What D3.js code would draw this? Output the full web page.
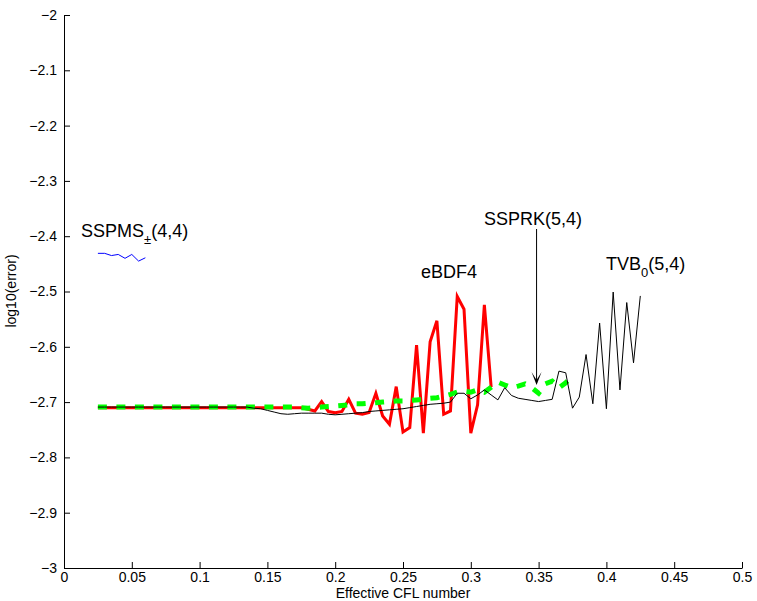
<!DOCTYPE html>
<html>
<head>
<meta charset="utf-8">
<script src="https://cdn.jsdelivr.net/npm/d3@7"></script>
<style>
  body { margin: 0; background: #fff; }
  svg { display: block; font-family: "Liberation Sans", Arial, Helvetica, sans-serif; }
</style>
</head>
<body>
<svg id="chart" width="757" height="601"></svg>
<script>
// effective CFL grid shared by all runs
var cfl = [0.025, 0.030, 0.035, 0.040, 0.045, 0.050, 0.055, 0.060, 0.065, 0.070,
  0.075, 0.080, 0.085, 0.090, 0.095, 0.100, 0.105, 0.110, 0.115, 0.120,
  0.125, 0.130, 0.135, 0.140, 0.145, 0.150, 0.155, 0.160, 0.165, 0.170,
  0.175, 0.180, 0.185, 0.190, 0.195, 0.200, 0.205, 0.210, 0.215, 0.220,
  0.225, 0.230, 0.235, 0.240, 0.245, 0.250, 0.255, 0.260, 0.265, 0.270,
  0.275, 0.280, 0.285, 0.290, 0.295, 0.300, 0.305, 0.310, 0.315, 0.320,
  0.325, 0.330, 0.335, 0.340, 0.345, 0.350, 0.355, 0.360, 0.365, 0.370,
  0.375, 0.380, 0.385, 0.390, 0.395, 0.400, 0.405, 0.410, 0.415, 0.420, 0.425];

// log10(error) per method
var sspms = [-2.431, -2.431, -2.435, -2.433, -2.440, -2.433, -2.445, -2.439];

var ebdf4 = [-2.710, -2.710, -2.710, -2.710, -2.710, -2.710, -2.710, -2.710, -2.710, -2.710,
  -2.710, -2.710, -2.710, -2.710, -2.710, -2.710, -2.710, -2.710, -2.710, -2.710,
  -2.710, -2.710, -2.710, -2.710, -2.710, -2.710, -2.710, -2.710, -2.710, -2.710,
  -2.710, -2.713, -2.716, -2.699, -2.717, -2.719, -2.717, -2.695, -2.720, -2.722,
  -2.719, -2.684, -2.725, -2.740, -2.672, -2.754, -2.746, -2.597, -2.756, -2.591,
  -2.553, -2.722, -2.716, -2.509, -2.532, -2.756, -2.705, -2.524, -2.673];

var ssprk = [-2.709, -2.709, -2.709, -2.709, -2.709, -2.709, -2.709, -2.709, -2.709, -2.709,
  -2.709, -2.709, -2.709, -2.709, -2.709, -2.709, -2.709, -2.709, -2.709, -2.709,
  -2.709, -2.709, -2.709, -2.709, -2.709, -2.709, -2.709, -2.709, -2.709, -2.709,
  -2.710, -2.711, -2.710, -2.709, -2.708, -2.707, -2.706, -2.705, -2.703, -2.703,
  -2.702, -2.701, -2.700, -2.699, -2.698, -2.698, -2.697, -2.696, -2.695, -2.693,
  -2.692, -2.689, -2.686, -2.682, -2.680, -2.682, -2.678, -2.682, -2.673, -2.664,
  -2.669, -2.674, -2.671, -2.667, -2.674, -2.684, -2.667, -2.662, -2.674, -2.665, -2.653];

var tvb = [-2.709, -2.709, -2.709, -2.709, -2.709, -2.709, -2.709, -2.709, -2.709, -2.709,
  -2.709, -2.709, -2.709, -2.709, -2.709, -2.709, -2.709, -2.709, -2.709, -2.709,
  -2.709, -2.709, -2.709, -2.711, -2.712, -2.715, -2.718, -2.721, -2.722, -2.721,
  -2.720, -2.720, -2.720, -2.720, -2.722, -2.723, -2.722, -2.721, -2.720, -2.719,
  -2.717, -2.716, -2.715, -2.714, -2.713, -2.712, -2.710, -2.708, -2.706, -2.704,
  -2.703, -2.702, -2.700, -2.684, -2.684, -2.694, -2.687, -2.678, -2.687, -2.696,
  -2.674, -2.688, -2.693, -2.695, -2.697, -2.699, -2.697, -2.695, -2.644, -2.647,
  -2.711, -2.691, -2.614, -2.703, -2.557, -2.712, -2.501, -2.678, -2.520, -2.629, -2.508];

var xTicks = [0, 0.05, 0.1, 0.15, 0.2, 0.25, 0.3, 0.35, 0.4, 0.45, 0.5];
var yTicks = [-3, -2.9, -2.8, -2.7, -2.6, -2.5, -2.4, -2.3, -2.2, -2.1, -2];

var svg = d3.select("#chart");
var x = d3.scaleLinear().domain([0, 0.5]).range([64, 742]);
var y = d3.scaleLinear().domain([-3, -2]).range([568, 15]);

svg.append("rect").attr("width", 757).attr("height", 601).attr("fill", "#fff");

var fmt = d3.format("~g");

var xAxis = svg.append("g")
  .attr("transform", "translate(0,568)")
  .call(d3.axisBottom(x).tickValues(xTicks).tickFormat(fmt)
    .tickSizeInner(-6).tickSizeOuter(0).tickPadding(4));
var yAxis = svg.append("g")
  .attr("transform", "translate(64,0)")
  .call(d3.axisLeft(y).tickValues(yTicks).tickFormat(fmt)
    .tickSizeInner(-6).tickSizeOuter(0).tickPadding(7));

[xAxis, yAxis].forEach(function (g) {
  g.selectAll("text").attr("font-size", 14).attr("font-family", null).attr("fill", "#000");
  g.selectAll("line").attr("stroke", "#000");
  g.select(".domain").attr("stroke", "#000");
  g.attr("font-family", null);
});

var line = d3.line()
  .x(function (d) { return x(d[0]); })
  .y(function (d) { return y(d[1]); });

function pts(vals) { return d3.zip(cfl.slice(0, vals.length), vals); }

svg.append("path").datum(pts(ebdf4)).attr("d", line)
  .attr("fill", "none").attr("stroke", "#ff0000").attr("stroke-width", 3)
  .attr("stroke-linejoin", "miter");
svg.append("path").datum(pts(ssprk)).attr("d", line)
  .attr("fill", "none").attr("stroke", "#00ff00").attr("stroke-width", 5)
  .attr("stroke-dasharray", "9,9.5");
svg.append("path").datum(pts(tvb)).attr("d", line)
  .attr("fill", "none").attr("stroke", "#000").attr("stroke-width", 1);
svg.append("path").datum(pts(sspms)).attr("d", line)
  .attr("fill", "none").attr("stroke", "#0000ff").attr("stroke-width", 1);

// annotations
var t1 = svg.append("text").attr("x", 81).attr("y", 237).attr("font-size", 18);
t1.append("tspan").text("SSPMS");
t1.append("tspan").attr("font-size", 13).attr("dy", 7).text("±");
t1.append("tspan").attr("dy", -7).text("(4,4)");

svg.append("text").attr("x", 421).attr("y", 278).attr("font-size", 18).text("eBDF4");

svg.append("text").attr("x", 484).attr("y", 225).attr("font-size", 18).text("SSPRK(5,4)");

var t2 = svg.append("text").attr("x", 606).attr("y", 270).attr("font-size", 18);
t2.append("tspan").text("TVB");
t2.append("tspan").attr("font-size", 13).attr("dy", 7).text("0");
t2.append("tspan").attr("dy", -7).text("(5,4)");

// arrow to SSPRK curve
var ax = x(0.3485), ay0 = 229, ay1 = y(-2.669);
svg.append("line").attr("x1", ax).attr("x2", ax).attr("y1", ay0).attr("y2", ay1 - 2)
  .attr("stroke", "#000").attr("stroke-width", 1);
svg.append("path")
  .attr("d", "M" + ax + "," + ay1 + "L" + (ax - 5) + "," + (ay1 - 13) + "L" + ax + "," + (ay1 - 5) +
    "L" + (ax + 5) + "," + (ay1 - 13) + "Z")
  .attr("fill", "#000");

// axis titles
svg.append("text").attr("x", 403).attr("y", 598).attr("text-anchor", "middle")
  .attr("font-size", 14).text("Effective CFL number");
svg.append("text").attr("transform", "translate(16,291) rotate(-90)")
  .attr("text-anchor", "middle").attr("font-size", 14).text("log10(error)");
</script>
</body>
</html>
